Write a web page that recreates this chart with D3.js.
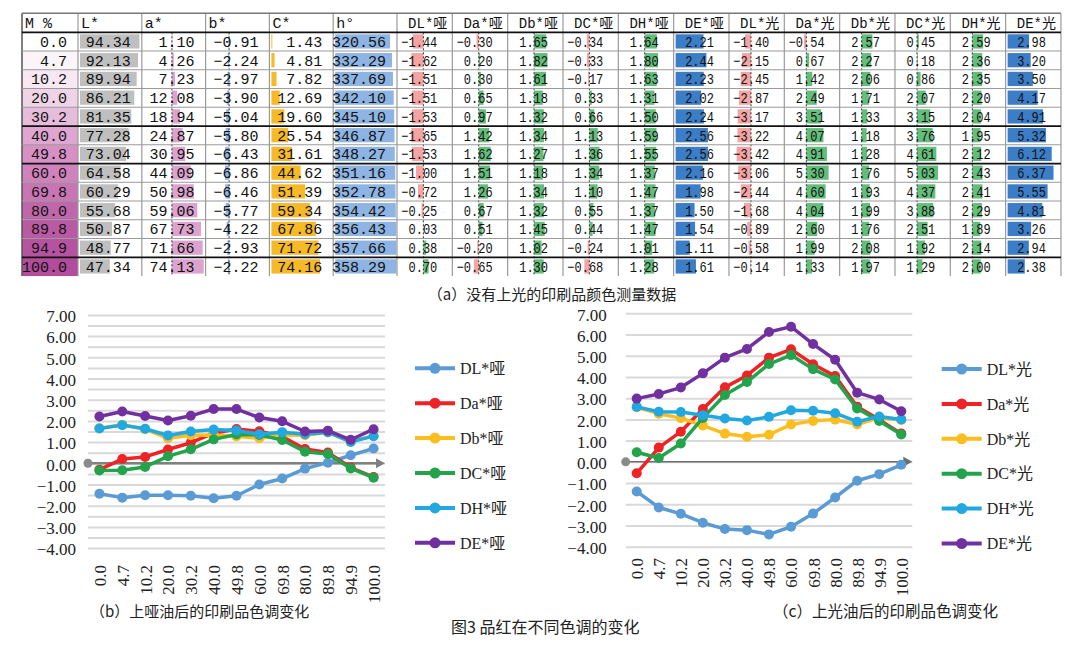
<!DOCTYPE html>
<html>
<head>
<meta charset="utf-8">
<script src="https://cdn.jsdelivr.net/npm/d3@7"></script>
<style>
body { margin: 0; background: #fff; }
svg { display: block; }
</style>
</head>
<body>
<svg id="chart" width="1080" height="650"></svg>
<script>
// ---- data ----
var tones = [0.0, 4.7, 10.2, 20.0, 30.2, 40.0, 49.8, 60.0, 69.8, 80.0, 89.8, 94.9, 100.0];
var lStar = [94.34, 92.13, 89.94, 86.21, 81.35, 77.28, 73.04, 64.58, 60.29, 55.68, 50.87, 48.77, 47.34];
var aStar = [1.10, 4.26, 7.23, 12.08, 18.94, 24.87, 30.95, 44.09, 50.98, 59.06, 67.73, 71.66, 74.13];
var bStar = [-0.91, -2.24, -2.97, -3.90, -5.04, -5.80, -6.43, -6.86, -6.46, -5.77, -4.22, -2.93, -2.22];
var cStar = [1.43, 4.81, 7.82, 12.69, 19.60, 25.54, 31.61, 44.62, 51.39, 59.34, 67.86, 71.72, 74.16];
var hue = [320.56, 332.29, 337.69, 342.10, 345.10, 346.87, 348.27, 351.16, 352.78, 354.42, 356.43, 357.66, 358.29];

var dLMatte = [-1.44, -1.62, -1.51, -1.51, -1.53, -1.65, -1.53, -1.00, -0.72, -0.25, 0.03, 0.38, 0.70];
var daMatte = [-0.30, 0.20, 0.30, 0.65, 0.97, 1.42, 1.62, 1.51, 1.26, 0.67, 0.51, -0.20, -0.65];
var dbMatte = [1.65, 1.82, 1.61, 1.18, 1.32, 1.34, 1.27, 1.18, 1.34, 1.32, 1.45, 1.02, 1.30];
var dCMatte = [-0.34, -0.33, -0.17, 0.33, 0.66, 1.13, 1.36, 1.34, 1.10, 0.55, 0.44, -0.24, -0.68];
var dHMatte = [1.64, 1.80, 1.63, 1.31, 1.50, 1.59, 1.55, 1.37, 1.47, 1.37, 1.47, 1.01, 1.28];
var dEMatte = [2.21, 2.44, 2.23, 2.02, 2.24, 2.56, 2.56, 2.16, 1.98, 1.50, 1.54, 1.11, 1.61];

var dLGloss = [-1.40, -2.15, -2.45, -2.87, -3.17, -3.22, -3.42, -3.06, -2.44, -1.68, -0.89, -0.58, -0.14];
var daGloss = [-0.54, 0.67, 1.42, 2.49, 3.51, 4.07, 4.91, 5.30, 4.60, 4.04, 2.60, 1.99, 1.33];
var dbGloss = [2.57, 2.27, 2.06, 1.71, 1.33, 1.18, 1.28, 1.76, 1.93, 1.99, 1.76, 2.08, 1.97];
var dCGloss = [0.45, 0.18, 0.86, 2.07, 3.15, 3.76, 4.61, 5.03, 4.37, 3.88, 2.51, 1.92, 1.29];
var dHGloss = [2.59, 2.36, 2.35, 2.20, 2.04, 1.95, 2.12, 2.43, 2.41, 2.29, 1.89, 2.14, 2.00];
var dEGloss = [2.98, 3.20, 3.50, 4.17, 4.91, 5.32, 6.12, 6.37, 5.55, 4.81, 3.26, 2.94, 2.38];

var matteNames = ["DL*哑", "Da*哑", "Db*哑", "DC*哑", "DH*哑", "DE*哑"];
var glossNames = ["DL*光", "Da*光", "Db*光", "DC*光", "DH*光", "DE*光"];
var yTicks = [7, 6, 5, 4, 3, 2, 1, 0, -1, -2, -3, -4];

var seriesColors = ["#5b9bd5", "#ee2326", "#fcbd1e", "#23a34b", "#22a8e1", "#71309f"];

// ---- setup ----
var svg = d3.select("#chart");
var fmt1 = d3.format(".1f"), fmt2 = d3.format(".2f");
var monoFont = "'Liberation Mono', 'Noto Sans CJK SC', monospace";
var serifFont = "'Liberation Serif', 'Noto Sans CJK SC', serif";
var cjkFont = "'Noto Sans CJK SC', sans-serif";

var posGreen = "#63be7b", negRed = "#f5a3a3", deBlue = "#3b7dc6";
var tableCols = [
    { head: "M %", values: tones, fmt: fmt1 },
    { head: "L*", values: lStar, fmt: fmt2, bar: { axis: 0, k: 0.63, pos: "#bfbfbf" } },
    { head: "a*", values: aStar, fmt: fmt2, bar: { axis: 0.47, k: 0.43, pos: "#dca3cf" } },
    { head: "b*", values: bStar, fmt: fmt2, bar: { axis: 0.36, k: 0.6, pos: "#8db4e2", neg: "#8db4e2" } },
    { head: "C*", values: cStar, fmt: fmt2, bar: { axis: 0, k: 0.655, pos: "#f6b928" } },
    { head: "h°", values: hue, fmt: fmt2, bar: { axis: 0, k: 0.171, pos: "#8db4e2" } }
];
[dLMatte, daMatte, dbMatte, dCMatte, dHMatte].forEach(function(v, i) {
    tableCols.push({ head: matteNames[i], values: v, fmt: fmt2, narrow: true,
        bar: { axis: 0.475, k: 7.4, pos: posGreen, neg: negRed } });
});
tableCols.push({ head: matteNames[5], values: dEMatte, fmt: fmt2, narrow: true,
    bar: { axis: 0, k: 12.6, pos: deBlue } });
[dLGloss, daGloss, dbGloss, dCGloss, dHGloss].forEach(function(v, i) {
    tableCols.push({ head: glossNames[i], values: v, fmt: fmt2, narrow: true,
        bar: { axis: 0.39, k: 4.2, pos: posGreen, neg: negRed } });
});
tableCols.push({ head: glossNames[5], values: dEGloss, fmt: fmt2, narrow: true,
    bar: { axis: 0, k: 7.2, pos: deBlue } });

// column edges
var colX = [22];
tableCols.forEach(function(c, i) {
    colX.push(colX[i] + (i === 0 ? 56 : (c.narrow ? 55.33 : 63.8)));
});
var headTop = 13.3, bodyTop = 32.3, rowH = 18.75;
var tableBottom = bodyTop + tones.length * rowH;
function rowY(i) { return bodyTop + i * rowH; }

var toneColor = d3.scaleLinear().domain([0, 50, 100]).range(["#ffffff", "#d690c4", "#b24c9c"]);

var table = svg.append("g");

// first column fill
table.selectAll(".tone").data(tones).enter().append("rect")
    .attr("x", colX[0]).attr("y", function(d, i) { return rowY(i); })
    .attr("width", colX[1] - colX[0]).attr("height", rowH)
    .attr("fill", function(d) { return toneColor(d); });

// data bars
tableCols.forEach(function(col, ci) {
    if (!col.bar) return;
    var b = col.bar, x0 = colX[ci], w = colX[ci + 1] - x0;
    var ax = x0 + 2 + b.axis * (w - 4);
    var len = d3.scaleLinear().domain([0, 1]).range([0, b.k]);
    table.append("g").selectAll("rect").data(col.values).enter().append("rect")
        .attr("x", function(d) { return d >= 0 ? ax : ax - len(-d); })
        .attr("y", function(d, i) { return rowY(i) + 2; })
        .attr("width", function(d) { return len(Math.abs(d)); })
        .attr("height", rowH - 4.5)
        .attr("fill", function(d) { return d >= 0 ? b.pos : b.neg; });
    if (b.axis > 0) {
        table.append("line").attr("x1", ax).attr("x2", ax)
            .attr("y1", bodyTop).attr("y2", tableBottom)
            .attr("stroke", "#333").attr("stroke-width", 1).attr("stroke-dasharray", "2,2");
    }
});

// grid lines of the table
table.selectAll(".vline").data(colX).enter().append("line")
    .attr("x1", function(d) { return d; }).attr("x2", function(d) { return d; })
    .attr("y1", headTop).attr("y2", tableBottom)
    .attr("stroke", function(d, i) { return i === 0 ? "#555" : "#9a9a9a"; })
    .attr("stroke-width", function(d, i) { return i === 0 ? 1.5 : 1.2; });
var heavyRows = [5, 7, 12];
table.selectAll(".hline").data(d3.range(0, tones.length)).enter().append("line")
    .attr("x1", colX[0]).attr("x2", colX[colX.length - 1])
    .attr("y1", function(i) { return rowY(i); }).attr("y2", function(i) { return rowY(i); })
    .attr("stroke", function(i) { return (i === 0 || heavyRows.indexOf(i) >= 0) ? "#111" : "#9a9a9a"; })
    .attr("stroke-width", function(i) { return (i === 0 || heavyRows.indexOf(i) >= 0) ? 1.8 : 1.1; });
table.append("line").attr("x1", colX[0]).attr("x2", colX[colX.length - 1])
    .attr("y1", headTop).attr("y2", headTop).attr("stroke", "#777").attr("stroke-width", 1.5);

// header text
tableCols.forEach(function(col, ci) {
    var x0 = colX[ci], x1 = colX[ci + 1];
    table.append("text")
        .attr("x", col.narrow ? x1 - 5 : x0 + 3).attr("y", headTop + 14.5)
        .attr("text-anchor", col.narrow ? "end" : "start")
        .style("font-family", monoFont).style("font-size", col.narrow ? "14px" : "15px")
        .attr("fill", "#111").text(col.head);
});

// cell text
tableCols.forEach(function(col, ci) {
    var x1 = colX[ci + 1];
    table.append("g").selectAll("text").data(col.values).enter().append("text")
        .attr("x", x1 - (col.narrow ? 15 : 11))
        .attr("y", function(d, i) { return rowY(i) + 14.5; })
        .attr("text-anchor", "end")
        .style("font-family", monoFont).style("font-size", "15px").attr("fill", "#111")
        .each(function(d) {
            var s = col.fmt(d);
            d3.select(this).text(s);
            if (col.narrow) {
                d3.select(this).attr("textLength", s.length * 7.2).attr("lengthAdjust", "spacingAndGlyphs");
            }
        });
});

// ---- line charts ----
function drawChart(o) {
    var g = svg.append("g");
    var x = d3.scalePoint().domain(d3.range(tones.length)).range([o.x0, o.x1]).padding(0.5);
    var y = d3.scaleLinear().domain([-4, 7]).range([o.yBottom, o.yTop]);

    var grid = g.append("g").attr("transform", "translate(" + o.x0 + ",0)")
        .call(d3.axisRight(y).tickValues(o.minor ? d3.range(-4, 7.01, 0.5) : yTicks)
            .tickSize(o.x1 - o.x0).tickFormat(""));
    grid.select(".domain").remove();
    grid.selectAll("line").attr("stroke", "#d9d9d9").attr("stroke-width", 2);

    var yAxis = g.append("g").attr("transform", "translate(" + o.labelX + ",0)")
        .call(d3.axisLeft(y).tickValues(yTicks).tickFormat(fmt2).tickSize(0).tickPadding(0));
    yAxis.select(".domain").remove();
    yAxis.selectAll("text").attr("dy", "0.4em")
        .style("font-family", serifFont).style("font-size", "17px").attr("fill", "#222");

    var xAxis = g.append("g").attr("transform", "translate(0," + o.xLabelTop + ")")
        .call(d3.axisBottom(x).tickSize(0).tickFormat(function(i) { return fmt1(tones[i]); }));
    xAxis.select(".domain").remove();
    xAxis.selectAll("text").attr("x", 0).attr("y", 0).attr("dy", "0.35em")
        .attr("transform", "rotate(-90)").attr("text-anchor", "end")
        .style("font-family", serifFont).style("font-size", "17px").attr("fill", "#222");

    // zero axis with start dot and arrow head
    var y0 = y(0);
    g.append("line").attr("x1", o.x0).attr("x2", o.x1 - 6).attr("y1", y0).attr("y2", y0)
        .attr("stroke", o.axisColor).attr("stroke-width", o.axisWidth);
    g.append("path")
        .attr("d", "M" + (o.x1 - 9) + "," + (y0 - 5) + "L" + (o.x1) + "," + y0 + "L" + (o.x1 - 9) + "," + (y0 + 5) + "Z")
        .attr("fill", o.axisColor);
    g.append("circle").attr("cx", o.x0).attr("cy", y0).attr("r", 4.5).attr("fill", "#8a8a8a");

    var line = d3.line().x(function(d, i) { return x(i); }).y(function(d) { return y(d); });
    o.series.forEach(function(vals, si) {
        g.append("path").datum(vals).attr("d", line).attr("fill", "none")
            .attr("stroke", seriesColors[si]).attr("stroke-width", 3.5).attr("stroke-linejoin", "round");
        g.append("g").selectAll("circle").data(vals).enter().append("circle")
            .attr("cx", function(d, i) { return x(i); }).attr("cy", function(d) { return y(d); })
            .attr("r", 5).attr("fill", seriesColors[si]);
    });

    var leg = g.append("g").selectAll("g").data(o.names).enter().append("g")
        .attr("transform", function(d, i) { return "translate(" + o.legX + "," + (o.legY + i * 34.9) + ")"; });
    leg.append("line").attr("x1", -20).attr("x2", 20)
        .attr("stroke", function(d, i) { return seriesColors[i]; }).attr("stroke-width", 4);
    leg.append("circle").attr("r", 5.5).attr("fill", function(d, i) { return seriesColors[i]; });
    leg.append("text").attr("x", 25).attr("dy", "0.36em")
        .style("font-family", serifFont).style("font-size", "16px").attr("fill", "#222")
        .text(function(d) { return d; });
}

drawChart({
    x0: 88, x1: 385, yTop: 314.9, yBottom: 548.1, labelX: 76, xLabelTop: 565, minor: true,
    axisColor: "#808080", axisWidth: 2.5,
    series: [dLMatte, daMatte, dbMatte, dCMatte, dHMatte, dEMatte], names: matteNames,
    legX: 435, legY: 368.3
});
drawChart({
    x0: 625.7, x1: 912.3, yTop: 313.3, yBottom: 546.7, labelX: 606.7, xLabelTop: 558, minor: false,
    axisColor: "#6e6e6e", axisWidth: 1.5,
    series: [dLGloss, daGloss, dbGloss, dCGloss, dHGloss, dEGloss], names: glossNames,
    legX: 961.7, legY: 369
});

// ---- captions ----
function caption(txt, x, y, size, anchor) {
    svg.append("text").attr("x", x).attr("y", y).attr("text-anchor", anchor || "start")
        .style("font-family", cjkFont).style("font-size", size + "px").attr("fill", "#222").text(txt);
}
caption("（a）没有上光的印刷品颜色测量数据", 552, 300, 15, "middle");
caption("（b）上哑油后的印刷品色调变化", 90, 617, 15);
caption("（c）上光油后的印刷品色调变化", 773, 617, 15.5);
caption("图3 品红在不同色调的变化", 451, 633, 16);
</script>
</body>
</html>
